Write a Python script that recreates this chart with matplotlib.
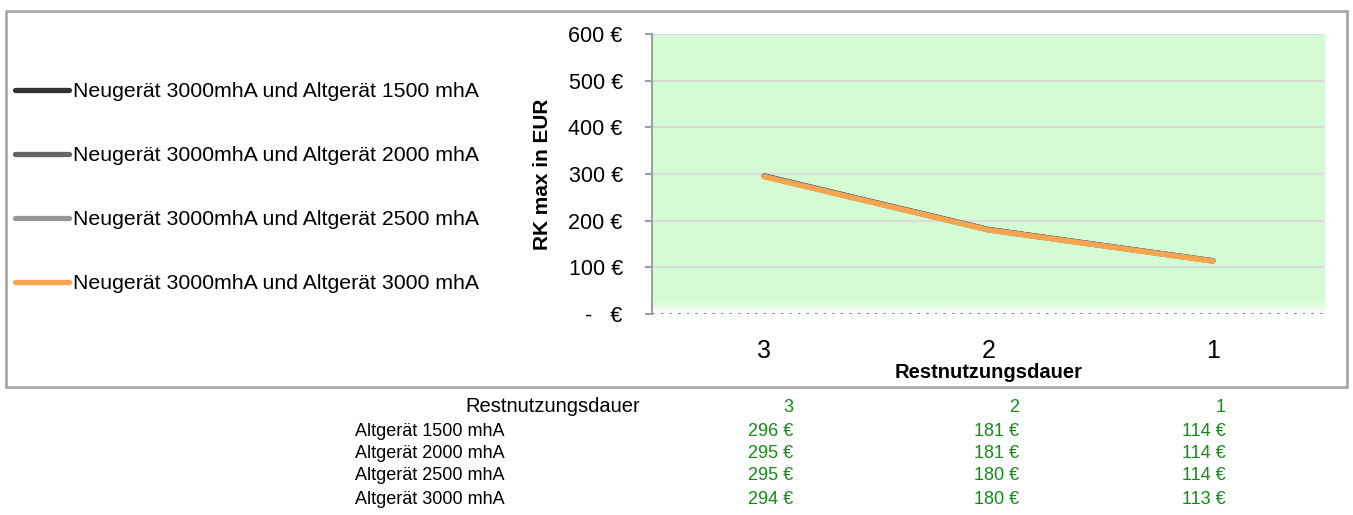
import numpy as np
import matplotlib.pyplot as plt
from matplotlib.patches import Rectangle
from matplotlib.colors import LinearSegmentedColormap

plt.rcParams['font.family'] = ['Liberation Sans', 'DejaVu Sans']

# data
restdauer = ['3', '2', '1']
serien = ['Neugerät 3000mhA und Altgerät 1500 mhA',
          'Neugerät 3000mhA und Altgerät 2000 mhA',
          'Neugerät 3000mhA und Altgerät 2500 mhA',
          'Neugerät 3000mhA und Altgerät 3000 mhA']
zeilen = ['Altgerät 1500 mhA', 'Altgerät 2000 mhA', 'Altgerät 2500 mhA', 'Altgerät 3000 mhA']
rk_1500 = [296, 181, 114]
rk_2000 = [295, 181, 114]
rk_2500 = [295, 180, 114]
rk_3000 = [294, 180, 113]
werte = [rk_1500, rk_2000, rk_2500, rk_3000]
farben = ['#333333', '#666666', '#969696', '#f9a54f']
yticks = [0, 100, 200, 300, 400, 500, 600]

W, H = 1353, 515
fig = plt.figure(figsize=(W / 100, H / 100), dpi=100)

# chart border
fig.patches.append(Rectangle((6 / W, 1 - 387 / H), 1341 / W, 376 / H, transform=fig.transFigure,
                             fill=False, edgecolor='#a0a0a0', linewidth=1.8))

ax = fig.add_axes([652 / W, 1 - 314 / H, 673 / W, 280 / H])
x = np.arange(len(restdauer)) + 0.5

# green background, fading out at the bottom
gruen_bg = LinearSegmentedColormap.from_list('s', ['#d4fcd4', '#d4fcd4'])
fade = LinearSegmentedColormap.from_list('g', ['#ffffff', '#d4fcd4'])
ax.imshow(np.ones((2, 2)), extent=[0, 3, 30, 600], cmap=gruen_bg, aspect='auto', zorder=0)
ax.imshow(np.linspace(0, 1, 50).reshape(-1, 1), extent=[0, 3, 0, 30], cmap=fade,
          aspect='auto', origin='lower', zorder=0)
ax.set_xlim(0, 3)
ax.set_ylim(0, 600)

for yv in yticks[1:]:
    ax.axhline(yv, color='#dcdcdc', linewidth=1.5, zorder=1)
ax.axhline(0, xmax=0.995, color='#e06666', linewidth=2.2, linestyle=(0, (0.8, 2.0)), zorder=2)

lines = []
for vals, f, name in zip(werte, farben, serien):
    ln, = ax.plot(x, vals, color=f, linewidth=3.8, solid_capstyle='round', zorder=3, label=name)
    lines.append(ln)

for s in ['top', 'right', 'bottom']:
    ax.spines[s].set_visible(False)
ax.spines['left'].set_color('#a0a0a0')
ax.spines['left'].set_linewidth(1.5)

ax.set_yticks(yticks)
ax.set_yticklabels([f'{v} €' if v else '-   €' for v in yticks], fontsize=15.5)
ax.tick_params(axis='y', length=5, color='#a0a0a0', width=1.5, pad=16)
ax.set_xticks(x)
ax.set_xticklabels(restdauer, fontsize=18)
ax.tick_params(axis='x', length=0, pad=18)
ax.set_xlabel('Restnutzungsdauer', fontsize=14.5, fontweight='bold', labelpad=0)
ax.set_ylabel('RK max in EUR', fontsize=15, fontweight='bold', labelpad=12)

fig.legend(handles=lines, loc='upper left', bbox_to_anchor=(15 / W, 1 - 82 / H), frameon=False,
           fontsize=15.3, handlelength=2.55, handletextpad=0.2, labelspacing=2.12,
           borderaxespad=0, borderpad=0)

# data table below
zeilen_y = [407, 431, 453, 476, 499]
spalten_x = [793, 1019, 1226]
gruen = '#178a17'
fig.text(640 / W, 1 - zeilen_y[0] / H, 'Restnutzungsdauer', ha='right', va='center', fontsize=14.5)
for cx, r in zip(spalten_x, restdauer):
    fig.text(cx / W, 1 - zeilen_y[0] / H, r, ha='right', va='center', fontsize=13, color=gruen)
for yy, name, vals in zip(zeilen_y[1:], zeilen, werte):
    fig.text(355 / W, 1 - yy / H, name, ha='left', va='center', fontsize=13)
    for cx, v in zip(spalten_x, vals):
        fig.text(cx / W, 1 - yy / H, f'{v} €', ha='right', va='center', fontsize=13, color=gruen)

fig.savefig('out.png', dpi=100)
